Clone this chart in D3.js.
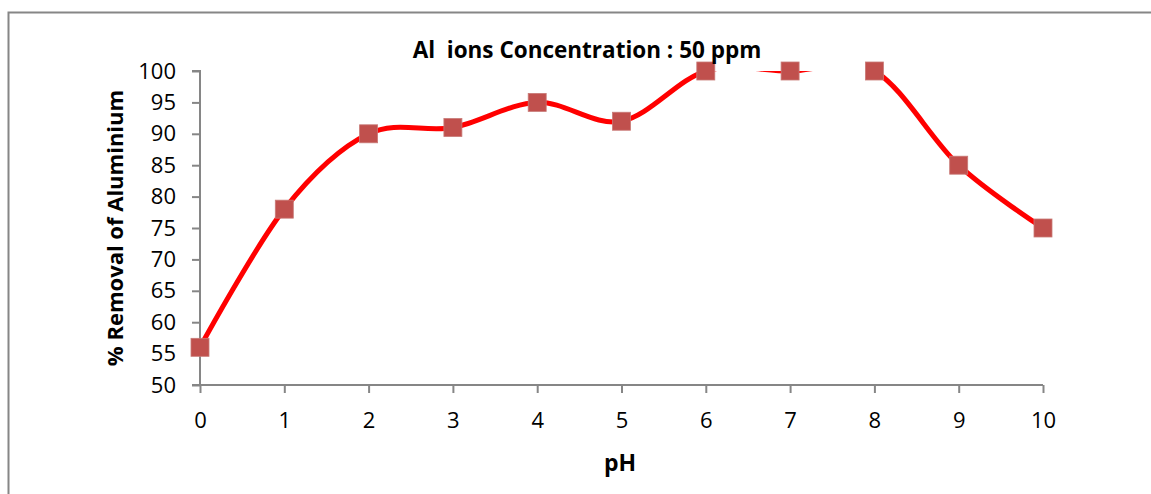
<!DOCTYPE html>
<html>
<head>
<meta charset="utf-8">
<script src="https://cdn.jsdelivr.net/npm/d3@7"></script>
<style>
  body { margin: 0; background: #fff; }
  text { font-family: "Open Sans", "Noto Sans", sans-serif; fill: #000; }
</style>
</head>
<body>
<div id="chart"></div>
<script>
// chart data
const phValues = [0, 1, 2, 3, 4, 5, 6, 7, 8, 9, 10]
const removal = [56, 78, 90, 91, 95, 92, 100, 100, 100, 85, 75]
const yTicks = [50, 55, 60, 65, 70, 75, 80, 85, 90, 95, 100]
const chartTitle = "Al  ions Concentration : 50 ppm"

const width = 1151,
  height = 494
const margin = { top: 71, right: 108, bottom: 109, left: 200 }

const svg = d3.select("#chart").append("svg").attr("width", width).attr("height", height)

// outer frame (only top and left edges visible)
svg.append("path")
  .attr("d", `M8.5,${height} V12.5 H${width}`)
  .attr("fill", "none")
  .attr("stroke", "#868686")
  .attr("stroke-width", 2)

const x = d3.scaleLinear().domain([0, 10]).range([margin.left, width - margin.right])
const y = d3.scaleLinear().domain([50, 100]).range([height - margin.bottom, margin.top])

// axes
const xAxis = svg.append("g")
  .attr("transform", `translate(0,${y(50)})`)
  .call(d3.axisBottom(x).tickValues(phValues).tickSize(8).tickPadding(19).tickFormat(d3.format("d")))
const yAxis = svg.append("g")
  .attr("transform", `translate(${x(0)},0)`)
  .call(d3.axisLeft(y).tickValues(yTicks).tickSize(8).tickPadding(16).tickFormat(d3.format("d")))

;[xAxis, yAxis].forEach((ax) => {
  ax.select(".domain").attr("stroke", "#868686").attr("stroke-width", 2)
  ax.selectAll(".tick line").attr("stroke", "#868686").attr("stroke-width", 2)
  ax.selectAll(".tick text")
    .style("font-size", "22px")
    .style("font-family", "'Open Sans', sans-serif")
    .attr("fill", "#000")
})
// y axis line starts with a tick stub on the left of the origin
yAxis.select(".domain").attr("d", `M-8,${y(100)}H0V${y(50)}H-8`)
xAxis.select(".domain").attr("d", `M${x(0) - 8},0H${x(10)}`)

// clip region for the line (plot area)
svg.append("clipPath").attr("id", "plot-clip")
  .append("rect")
  .attr("x", x(0) - 10)
  .attr("y", y(100))
  .attr("width", x(10) - x(0) + 20)
  .attr("height", y(50) - y(100) + 10)

const line = d3.line()
  .x((d, i) => x(phValues[i]))
  .y((d) => y(d))
  .curve(d3.curveCardinal.tension(0))

svg.append("path")
  .datum(removal)
  .attr("clip-path", "url(#plot-clip)")
  .attr("d", line)
  .attr("fill", "none")
  .attr("stroke", "#ff0000")
  .attr("stroke-width", 5)

// square markers
const size = 18
svg.selectAll(".marker")
  .data(removal)
  .enter()
  .append("rect")
  .attr("class", "marker")
  .attr("x", (d, i) => x(phValues[i]) - size / 2)
  .attr("y", (d) => y(d) - size / 2)
  .attr("width", size)
  .attr("height", size)
  .attr("fill", "#c0504d")
  .attr("stroke", "#c87a77")
  .attr("stroke-width", 0.8)

// titles
svg.append("text")
  .attr("x", 587)
  .attr("y", 58)
  .attr("text-anchor", "middle")
  .style("font-size", "22.5px")
  .style("font-weight", "bold")
  .style("white-space", "pre")
  .text(chartTitle)

svg.append("text")
  .attr("x", 620)
  .attr("y", 471)
  .attr("text-anchor", "middle")
  .style("font-size", "23px")
  .style("font-weight", "bold")
  .text("pH")

svg.append("text")
  .attr("transform", `translate(123,228) rotate(-90)`)
  .attr("text-anchor", "middle")
  .style("font-size", "22px")
  .style("font-weight", "bold")
  .text("% Removal of Aluminium")
</script>
</body>
</html>
